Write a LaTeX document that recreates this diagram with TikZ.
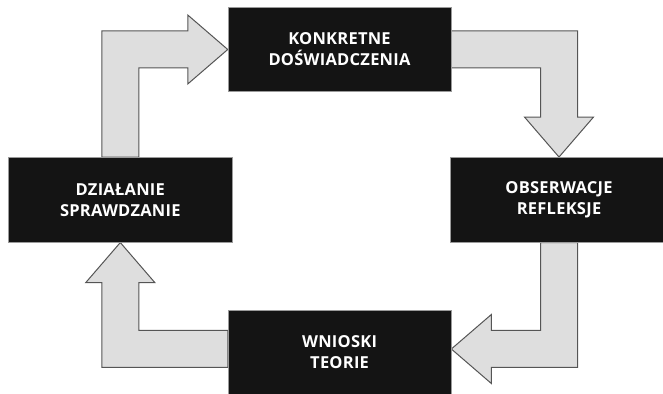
\documentclass[tikz,border=0pt]{standalone}
\usepackage{fontspec}
\setmainfont{Open Sans}
\newfontfamily\stagefont{Open Sans}[LetterSpace=1.5]
\usetikzlibrary{calc,backgrounds}
\definecolor{stageblack}{HTML}{141414}
\definecolor{stageedge}{HTML}{9A9A9A}
\definecolor{flowfill}{HTML}{DEDEDE}
\definecolor{flowedge}{HTML}{555555}
% shaft half-width, head half-width, head length
\def\sw{18.5}
\def\hw{34.5}
\def\hl{40}
\begin{document}
\begin{tikzpicture}[x=1pt,y=1pt,
  stage/.style={fill=stageblack, draw=stageedge, line width=0.5pt, text=white,
    font=\stagefont\bfseries\fontsize{16.5}{21}\selectfont, align=center,
    minimum height=85, inner sep=0},
  flow/.style={fill=flowfill, draw=flowedge, line width=1pt, line join=miter}]
\useasboundingbox (0,0) rectangle (663,393);
\clip (0,0) rectangle (663,393);

% the four stages of the cycle
\node[stage, minimum width=223, minimum height=84.4] (ko) at (339.5,343.5) {KONKRETNE\\DOŚWIADCZENIA};
\node[stage, minimum width=224] (dz) at (120.3,193.2) {DZIAŁANIE\\SPRAWDZANIE};
\node[stage, minimum width=218] (ob) at (559,193.2) {OBSERWACJE\\REFLEKSJE};
\node[stage, minimum width=223] (wn) at (339.6,40.5) {WNIOSKI\\TEORIE};

\begin{scope}[on background layer]
% działanie -> konkretne doświadczenia
\coordinate (s1) at (dz.north);
\coordinate (t1) at (ko.west);
\coordinate (c1) at (s1 |- t1);
\draw[flow] ($(s1)+(-\sw,0)$) -- ($(c1)+(-\sw,\sw)$) -- ($(t1)+(-\hl,\sw)$)
  -- ($(t1)+(-\hl,\hw)$) -- (t1) -- ($(t1)+(-\hl,-\hw)$) -- ($(t1)+(-\hl,-\sw)$)
  -- ($(c1)+(\sw,-\sw)$) -- ($(s1)+(\sw,0)$) -- cycle;

% konkretne doświadczenia -> obserwacje
\coordinate (s2) at (ko.east);
\coordinate (t2) at (ob.north);
\coordinate (c2) at (t2 |- s2);
\draw[flow] ($(s2)+(0,\sw)$) -- ($(c2)+(\sw,\sw)$) -- ($(t2)+(\sw,\hl)$)
  -- ($(t2)+(\hw,\hl)$) -- (t2) -- ($(t2)+(-\hw,\hl)$) -- ($(t2)+(-\sw,\hl)$)
  -- ($(c2)+(-\sw,-\sw)$) -- ($(s2)+(0,-\sw)$) -- cycle;

% obserwacje -> wnioski
\coordinate (s3) at (ob.south);
\coordinate (t3) at ($(wn.east)+(0,3.5)$);
\coordinate (c3) at (s3 |- t3);
\draw[flow] ($(s3)+(\sw,0)$) -- ($(c3)+(\sw,-\sw)$) -- ($(t3)+(\hl,-\sw)$)
  -- ($(t3)+(\hl,-\hw)$) -- (t3) -- ($(t3)+(\hl,\hw)$) -- ($(t3)+(\hl,\sw)$)
  -- ($(c3)+(-\sw,\sw)$) -- ($(s3)+(-\sw,0)$) -- cycle;

% wnioski -> działanie
\coordinate (s4) at ($(wn.west)+(0,3.5)$);
\coordinate (t4) at (dz.south);
\coordinate (c4) at (t4 |- s4);
\draw[flow] ($(s4)+(0,-\sw)$) -- ($(c4)+(-\sw,-\sw)$) -- ($(t4)+(-\sw,-\hl)$)
  -- ($(t4)+(-\hw,-\hl)$) -- (t4) -- ($(t4)+(\hw,-\hl)$) -- ($(t4)+(\sw,-\hl)$)
  -- ($(c4)+(\sw,\sw)$) -- ($(s4)+(0,\sw)$) -- cycle;
\end{scope}
\end{tikzpicture}
\end{document}
